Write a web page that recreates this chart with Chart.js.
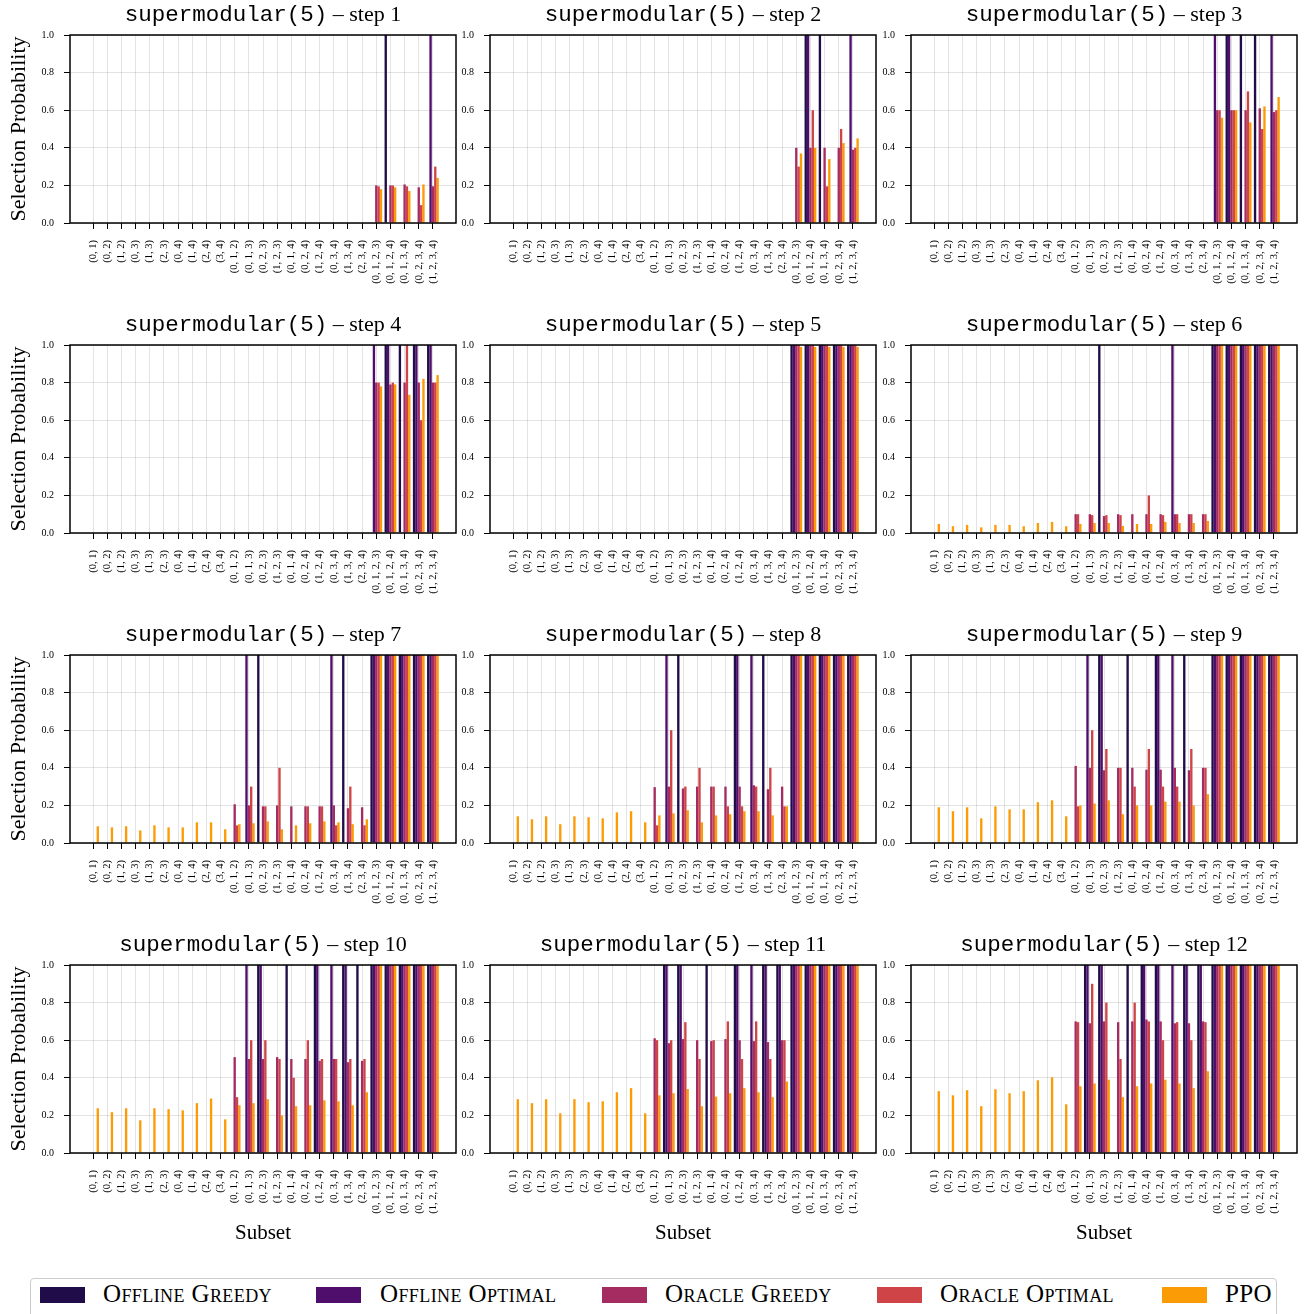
<!DOCTYPE html>
<html>
<head>
<meta charset="utf-8">
<script src="https://cdn.jsdelivr.net/npm/chart.js@4.4.1/dist/chart.umd.min.js"></script>
<style>
body { margin: 0; background: #fff; }
#fig { position: relative; width: 1307px; height: 1314px; overflow: hidden; font-family: 'Liberation Serif', 'Times New Roman', serif; color: #000; }
#fig canvas { position: absolute; }
.title { position: absolute; width: 386px; text-align: center; font-size: 22px; line-height: 24px; white-space: nowrap; }
.title .mono { font-family: 'Liberation Mono', monospace; font-size: 22.5px; }
.ylab { position: absolute; width: 240px; text-align: center; font-size: 22px; line-height: 24px; white-space: nowrap; transform: rotate(-90deg); }
.xlab { position: absolute; width: 386px; text-align: center; font-size: 21px; line-height: 24px; }
#legend { position: absolute; left: 30px; top: 1278px; width: 1245px; height: 44px; border: 1px solid #ccc; border-radius: 4px; }
.lg-patch { position: absolute; top: 1287px; width: 45px; height: 16px; }
.lg-text { position: absolute; top: 1281px; font-size: 25px; line-height: 26px; letter-spacing: 0.4px; font-variant: small-caps; white-space: nowrap; }
</style>
</head>
<body>
<div id="fig">
  <div id="legend"></div>
</div>
<script>
// subsets on the x axis
var subsets = ['(0, 1)', '(0, 2)', '(1, 2)', '(0, 3)', '(1, 3)', '(2, 3)', '(0, 4)', '(1, 4)', '(2, 4)', '(3, 4)',
    '(0, 1, 2)', '(0, 1, 3)', '(0, 2, 3)', '(1, 2, 3)', '(0, 1, 4)', '(0, 2, 4)', '(1, 2, 4)', '(0, 3, 4)', '(1, 3, 4)', '(2, 3, 4)',
    '(0, 1, 2, 3)', '(0, 1, 2, 4)', '(0, 1, 3, 4)', '(0, 2, 3, 4)', '(1, 2, 3, 4)'];
var steps = [1, 2, 3, 4, 5, 6, 7, 8, 9, 10, 11, 12];
var yTicks = [0, 0.2, 0.4, 0.6, 0.8, 1.0];
var seriesNames = ['Offline Greedy', 'Offline Optimal', 'Oracle Greedy', 'Oracle Optimal', 'PPO'];
var seriesColors = ['#1f0c48', '#4f0d6c', '#a52c60', '#cf4446', '#fb9b06'];

// one row per step, 25 subsets per row (pairs | triples | quadruples)
var offlineGreedy = [
    [0,0,0,0,0,0,0,0,0,0, 0,0,0,0,0,0,0,0,0,0, 0,1,0,0,0],
    [0,0,0,0,0,0,0,0,0,0, 0,0,0,0,0,0,0,0,0,0, 0,1,1,0,0],
    [0,0,0,0,0,0,0,0,0,0, 0,0,0,0,0,0,0,0,0,0, 0,1,1,1,0],
    [0,0,0,0,0,0,0,0,0,0, 0,0,0,0,0,0,0,0,0,0, 0,1,1,1,1],
    [0,0,0,0,0,0,0,0,0,0, 0,0,0,0,0,0,0,0,0,0, 1,1,1,1,1],
    [0,0,0,0,0,0,0,0,0,0, 0,0,1,0,0,0,0,0,0,0, 1,1,1,1,1],
    [0,0,0,0,0,0,0,0,0,0, 0,0,1,0,0,0,0,0,1,0, 1,1,1,1,1],
    [0,0,0,0,0,0,0,0,0,0, 0,0,1,0,0,0,1,0,1,0, 1,1,1,1,1],
    [0,0,0,0,0,0,0,0,0,0, 0,0,1,0,1,0,1,0,1,0, 1,1,1,1,1],
    [0,0,0,0,0,0,0,0,0,0, 0,0,1,0,1,0,1,0,1,1, 1,1,1,1,1],
    [0,0,0,0,0,0,0,0,0,0, 0,1,1,0,1,0,1,0,1,1, 1,1,1,1,1],
    [0,0,0,0,0,0,0,0,0,0, 0,1,1,0,1,1,1,0,1,1, 1,1,1,1,1]
];
var offlineOptimal = [
    [0,0,0,0,0,0,0,0,0,0, 0,0,0,0,0,0,0,0,0,0, 0,0,0,0,1],
    [0,0,0,0,0,0,0,0,0,0, 0,0,0,0,0,0,0,0,0,0, 0,1,0,0,1],
    [0,0,0,0,0,0,0,0,0,0, 0,0,0,0,0,0,0,0,0,0, 1,1,0,0,1],
    [0,0,0,0,0,0,0,0,0,0, 0,0,0,0,0,0,0,0,0,0, 1,1,0,1,1],
    [0,0,0,0,0,0,0,0,0,0, 0,0,0,0,0,0,0,0,0,0, 1,1,1,1,1],
    [0,0,0,0,0,0,0,0,0,0, 0,0,0,0,0,0,0,1,0,0, 1,1,1,1,1],
    [0,0,0,0,0,0,0,0,0,0, 0,1,0,0,0,0,0,1,0,0, 1,1,1,1,1],
    [0,0,0,0,0,0,0,0,0,0, 0,1,0,0,0,0,1,1,0,0, 1,1,1,1,1],
    [0,0,0,0,0,0,0,0,0,0, 0,1,1,0,0,0,1,1,0,0, 1,1,1,1,1],
    [0,0,0,0,0,0,0,0,0,0, 0,1,1,0,0,0,1,1,1,0, 1,1,1,1,1],
    [0,0,0,0,0,0,0,0,0,0, 0,1,1,0,0,0,1,1,1,1, 1,1,1,1,1],
    [0,0,0,0,0,0,0,0,0,0, 0,1,1,0,0,1,1,1,1,1, 1,1,1,1,1]
];
var oracleGreedy = [
    [0,0,0,0,0,0,0,0,0,0, 0,0,0,0,0,0,0,0,0,0, 0.20,0.20,0.205,0.19,0.195],
    [0,0,0,0,0,0,0,0,0,0, 0,0,0,0,0,0,0,0,0,0, 0.40,0.40,0.40,0.40,0.39],
    [0,0,0,0,0,0,0,0,0,0, 0,0,0,0,0,0,0,0,0,0, 0.60,0.60,0.60,0.61,0.59],
    [0,0,0,0,0,0,0,0,0,0, 0,0,0,0,0,0,0,0,0,0, 0.80,0.79,0.80,0.80,0.80],
    [0,0,0,0,0,0,0,0,0,0, 0,0,0,0,0,0,0,0,0,0, 1,1,1,1,1],
    [0,0,0,0,0,0,0,0,0,0, 0.10,0.10,0.09,0.10,0.10,0.10,0.10,0.10,0.10,0.10, 1,1,1,1,1],
    [0,0,0,0,0,0,0,0,0,0, 0.206,0.20,0.195,0.20,0.195,0.195,0.195,0.20,0.185,0.19, 1,1,1,1,1],
    [0,0,0,0,0,0,0,0,0,0, 0.297,0.30,0.29,0.30,0.30,0.30,0.30,0.307,0.286,0.30, 1,1,1,1,1],
    [0,0,0,0,0,0,0,0,0,0, 0.41,0.40,0.387,0.40,0.40,0.39,0.39,0.40,0.387,0.40, 1,1,1,1,1],
    [0,0,0,0,0,0,0,0,0,0, 0.51,0.50,0.50,0.51,0.50,0.50,0.49,0.50,0.483,0.49, 1,1,1,1,1],
    [0,0,0,0,0,0,0,0,0,0, 0.61,0.584,0.606,0.60,0.595,0.606,0.60,0.595,0.59,0.60, 1,1,1,1,1],
    [0,0,0,0,0,0,0,0,0,0, 0.70,0.69,0.70,0.696,0.70,0.71,0.70,0.69,0.69,0.70, 1,1,1,1,1]
];
var oracleOptimal = [
    [0,0,0,0,0,0,0,0,0,0, 0,0,0,0,0,0,0,0,0,0, 0.195,0.20,0.195,0.095,0.30],
    [0,0,0,0,0,0,0,0,0,0, 0,0,0,0,0,0,0,0,0,0, 0.30,0.60,0.195,0.50,0.40],
    [0,0,0,0,0,0,0,0,0,0, 0,0,0,0,0,0,0,0,0,0, 0.60,0.60,0.70,0.50,0.60],
    [0,0,0,0,0,0,0,0,0,0, 0,0,0,0,0,0,0,0,0,0, 0.80,0.80,1.00,0.60,0.80],
    [0,0,0,0,0,0,0,0,0,0, 0,0,0,0,0,0,0,0,0,0, 1,1,1,1,1],
    [0,0,0,0,0,0,0,0,0,0, 0.10,0.095,0.095,0.095,0,0.20,0.095,0.10,0.10,0.10, 1,1,1,1,1],
    [0,0,0,0,0,0,0,0,0,0, 0.094,0.30,0.195,0.40,0,0.195,0.195,0.094,0.30,0.094, 1,1,1,1,1],
    [0,0,0,0,0,0,0,0,0,0, 0.094,0.60,0.30,0.40,0.30,0.195,0.195,0.30,0.40,0.195, 1,1,1,1,1],
    [0,0,0,0,0,0,0,0,0,0, 0.195,0.60,0.50,0.40,0.30,0.50,0.30,0.30,0.50,0.40, 1,1,1,1,1],
    [0,0,0,0,0,0,0,0,0,0, 0.297,0.60,0.60,0.50,0.40,0.60,0.50,0.50,0.50,0.50, 1,1,1,1,1],
    [0,0,0,0,0,0,0,0,0,0, 0.60,0.60,0.696,0.50,0.60,0.70,0.50,0.70,0.50,0.60, 1,1,1,1,1],
    [0,0,0,0,0,0,0,0,0,0, 0.696,0.90,0.80,0.50,0.80,0.70,0.60,0.696,0.60,0.696, 1,1,1,1,1]
];
var ppo = [
    [0,0,0,0,0,0,0,0,0,0, 0,0,0,0,0,0,0,0,0,0, 0.18,0.19,0.17,0.205,0.24],
    [0,0,0,0,0,0,0,0,0,0, 0,0,0,0,0,0,0,0,0,0, 0.37,0.40,0.34,0.425,0.45],
    [0,0,0,0,0,0,0,0,0,0, 0,0,0,0,0,0,0,0,0,0, 0.56,0.60,0.535,0.62,0.67],
    [0,0,0,0,0,0,0,0,0,0, 0,0,0,0,0,0,0,0,0,0, 0.78,0.79,0.735,0.82,0.84],
    [0,0,0,0,0,0,0,0,0,0, 0,0,0,0,0,0,0,0,0,0, 0.99,0.99,0.99,0.99,0.99],
    [0.048,0.036,0.043,0.030,0.043,0.043,0.036,0.053,0.059,0.036, 0.048,0.053,0.053,0.037,0.048,0.048,0.059,0.053,0.053,0.064, 1,1,1,1,1],
    [0.089,0.083,0.089,0.067,0.094,0.083,0.083,0.11,0.11,0.073, 0.10,0.105,0.115,0.073,0.094,0.105,0.115,0.11,0.10,0.126, 1,1,1,1,1],
    [0.142,0.126,0.142,0.10,0.142,0.137,0.131,0.163,0.169,0.11, 0.147,0.158,0.174,0.11,0.147,0.153,0.169,0.169,0.147,0.195, 1,1,1,1,1],
    [0.19,0.169,0.19,0.131,0.195,0.179,0.179,0.217,0.227,0.142, 0.20,0.21,0.227,0.153,0.20,0.20,0.22,0.22,0.20,0.26, 1,1,1,1,1],
    [0.238,0.217,0.238,0.174,0.238,0.233,0.227,0.265,0.29,0.179, 0.254,0.265,0.286,0.20,0.249,0.254,0.28,0.275,0.254,0.323, 1,1,1,1,1],
    [0.286,0.265,0.286,0.211,0.286,0.27,0.275,0.323,0.345,0.211, 0.307,0.318,0.34,0.249,0.30,0.318,0.345,0.323,0.297,0.38, 1,1,1,1,1],
    [0.329,0.307,0.334,0.249,0.339,0.318,0.329,0.387,0.403,0.259, 0.355,0.37,0.39,0.297,0.355,0.37,0.39,0.37,0.345,0.435, 1,1,1,1,1]
];

var colLeft = [70, 490, 911];
var rowTop = [35, 345, 655, 965];
var plotW = 386, plotH = 188;
var yAxisW = 45, xAxisH = 75, padTop = 8;

Chart.defaults.font.family = "'Liberation Serif', 'Times New Roman', serif";
Chart.defaults.color = '#000';

// matplotlib style box around the axes
const frame = {
    id: 'frame',
    afterDraw(chart) {
        const a = chart.chartArea, c = chart.ctx;
        c.save();
        c.strokeStyle = '#000';
        c.lineWidth = 1.5;
        c.strokeRect(a.left, a.top, a.right - a.left, a.bottom - a.top);
        c.restore();
    }
};

var fig = document.getElementById('fig');

function addDiv(cls, left, top, html) {
    var d = document.createElement('div');
    d.className = cls;
    d.style.left = left + 'px';
    d.style.top = top + 'px';
    d.innerHTML = html;
    fig.appendChild(d);
    return d;
}

function buildChart(k) {
    var col = k % 3, row = Math.floor(k / 3);
    var left = colLeft[col], top = rowTop[row];
    var canvas = document.createElement('canvas');
    canvas.width = yAxisW + plotW + 8;
    canvas.height = padTop + plotH + xAxisH;
    canvas.style.left = (left - yAxisW) + 'px';
    canvas.style.top = (top - padTop) + 'px';
    fig.appendChild(canvas);

    addDiv('title', left, top - 33, '<span class="mono">supermodular(5)</span> – step ' + steps[k]);
    if (col == 0) {
        addDiv('ylab', 18 - 120, top + plotH / 2 - 12, 'Selection Probability');
    }
    if (row == 3) {
        addDiv('xlab', left, 1220, 'Subset');
    }

    var all = [offlineGreedy, offlineOptimal, oracleGreedy, oracleOptimal, ppo];
    var datasets = all.map(function(s, j) {
        return {
            label: seriesNames[j],
            data: s[k].map(function(v, i) { return {x: i, y: v}; }),
            backgroundColor: seriesColors[j],
            borderWidth: 0,
            categoryPercentage: 0.83,
            barPercentage: 1.0
        };
    });

    const gridStyle = {color: 'rgba(0,0,0,0.11)', lineWidth: 1, offset: false, tickColor: '#000', tickLength: 6, tickWidth: 1};

    new Chart(canvas, {
        type: 'bar',
        data: {datasets: datasets},
        options: {
            responsive: false,
            animation: false,
            layout: {padding: {top: padTop, right: 8, left: 0, bottom: 0}},
            plugins: {legend: {display: false}, tooltip: {enabled: false}},
            scales: {
                x: {
                    type: 'linear',
                    min: -1.63,
                    max: 25.63,
                    offset: false,
                    afterBuildTicks: function(s) { s.ticks = subsets.map(function(_, i) { return {value: i}; }); },
                    afterFit: function(s) { s.height = xAxisH; s.paddingLeft = 0; s.paddingRight = 0; },
                    ticks: {
                        autoSkip: false, minRotation: 90, maxRotation: 90, padding: 11,
                        font: {size: 10.5},
                        callback: function(v) { return subsets[v]; }
                    },
                    grid: gridStyle,
                    border: {display: false}
                },
                y: {
                    min: 0,
                    max: 1,
                    afterBuildTicks: function(s) { s.ticks = yTicks.map(function(v) { return {value: v}; }); },
                    afterFit: function(s) { s.width = yAxisW; s.paddingTop = 0; s.paddingBottom = 0; },
                    ticks: {
                        padding: 10,
                        font: {size: 10},
                        callback: function(v) { return v.toFixed(1); }
                    },
                    grid: gridStyle,
                    border: {display: false}
                }
            }
        },
        plugins: [frame]
    });
}

steps.forEach(function(s, k) { buildChart(k); });

// legend along the bottom
var lgPatchX = [40, 316, 602, 877, 1162];
var lgTextX = [103, 380, 665, 940, 1225];
seriesNames.forEach(function(name, j) {
    var p = addDiv('lg-patch', lgPatchX[j], 1287, '');
    p.style.background = seriesColors[j];
    addDiv('lg-text', lgTextX[j], 1281, name);
});
</script>
</body>
</html>
